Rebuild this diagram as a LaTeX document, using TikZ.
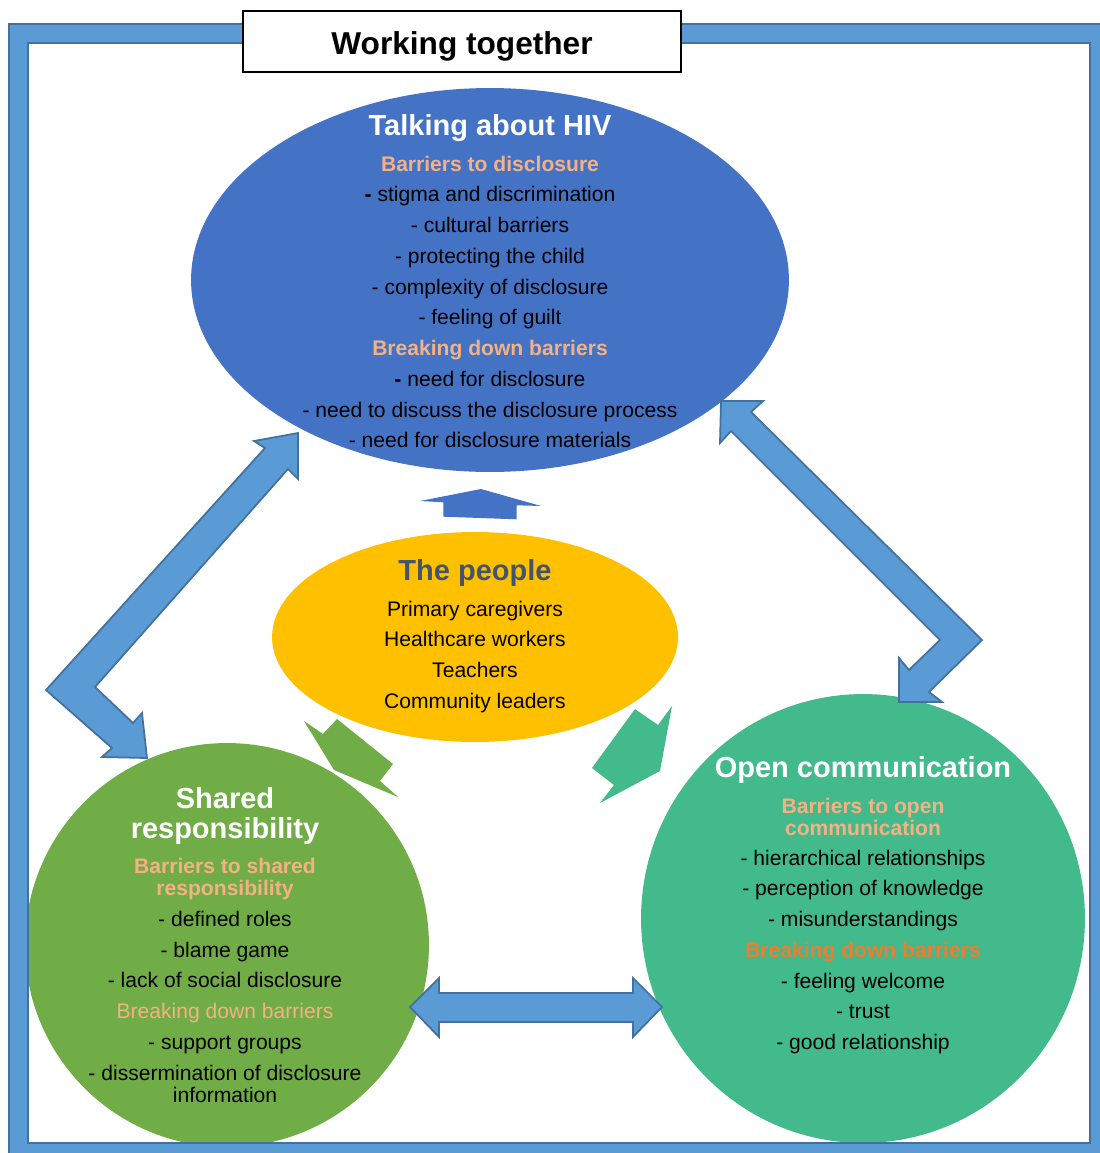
\documentclass[tikz,border=0pt]{standalone}
\usepackage{fontspec}
\setmainfont{Liberation Sans}
\usetikzlibrary{shapes.geometric}

\definecolor{framefill}{HTML}{5B9BD5}
\definecolor{frameline}{HTML}{41719C}
\definecolor{hivblue}{HTML}{4472C4}
\definecolor{peopleyellow}{HTML}{FFC000}
\definecolor{sharedgreen}{HTML}{70AD47}
\definecolor{openteal}{HTML}{43BA8C}
\definecolor{peoplegrey}{HTML}{44546A}
\definecolor{lightorange}{HTML}{F4B183}
\definecolor{darkorange}{HTML}{ED7D31}

\newcommand\circtitle[2][white]{{\color{#1}\bfseries\fontsize{16.5}{17.5}\selectfont #2}}
\newcommand\circsub[2][lightorange]{{\color{#1}\bfseries #2}}

\begin{document}
\begin{tikzpicture}[x=0.02cm,y=-0.02cm,
    blob/.style={ellipse,inner sep=0pt,draw=none},
    words/.style={align=center,inner sep=0pt,anchor=north,font=\fontsize{12}{17.5}\selectfont},
    bigarrow/.style={fill=framefill,draw=frameline,line width=1pt,line join=miter}]
  \fill[white,use as bounding box] (0,0) rectangle (1099,1153);

  \node[blob,fill=hivblue,minimum width=11.96cm,minimum height=7.68cm] (hiv) at (490,280) {};
  \node[blob,fill=peopleyellow,minimum width=8.12cm,minimum height=4.2cm] (people) at (475,637) {};
  \node[blob,fill=sharedgreen,minimum size=8.08cm] (shared) at (227,945) {};
  \node[blob,fill=openteal,minimum width=8.88cm,minimum height=8.98cm] (open) at (863,918.5) {};

  \fill[framefill,even odd rule,draw=frameline,line width=0.8pt]
    (9,24) rectangle (1110,1163) (28,43) rectangle (1090,1143);
  \node[draw,fill=white,line width=1.2pt,minimum width=8.76cm,minimum height=1.22cm,
    text height=14.6pt,text depth=0pt,font=\bfseries\fontsize{18}{20}\selectfont]
    (title) at (462,41.5) {Working together};

  \draw[bigarrow] (298,433) -- (254,441) -- (265,448) -- (46,690) -- (112,748) -- (102,757)
    -- (147,758) -- (142,713) -- (133,723) -- (95,687) -- (288,469) -- (298,479) -- cycle;
  \draw[bigarrow] (721,401) -- (763,401) -- (751,412) -- (982,640) -- (929,692) -- (942,702)
    -- (899,702) -- (899,658) -- (909,670) -- (940,640) -- (731,431) -- (720,443) -- cycle;
  \draw[bigarrow] (410,1007) -- (439,978) -- (439,993) -- (633,993) -- (633,978) -- (662,1007)
    -- (633,1037) -- (633,1022) -- (439,1022) -- (439,1037) -- cycle;

  \fill[hivblue] (443.3,516.7) -- (443.3,502.3) -- (420,501) -- (481,489) -- (541,506)
    -- (516.7,505.3) -- (516.7,519.3) -- cycle;
  \fill[sharedgreen] (304,721) -- (323,734) -- (337,719) -- (393,764) -- (380,781)
    -- (398,797) -- (334,770) -- cycle;
  \fill[openteal] (635,709) -- (658,725) -- (672,706) -- (660,771) -- (600,803)
    -- (614,785) -- (592,768) -- cycle;

  \node[words] (hivtext) at (490,114.6) {\circtitle{Talking about HIV}\\[2.5pt]
    \circsub{Barriers to disclosure}\\
    {\bfseries -} stigma and discrimination\\
    - cultural barriers\\
    - protecting the child\\
    - complexity of disclosure\\
    - feeling of guilt\\
    \circsub{Breaking down barriers}\\
    {\bfseries -} need for disclosure\\
    - need to discuss the disclosure process\\
    - need for disclosure materials};
  \node[words] (peopletext) at (475,559.6) {\circtitle[peoplegrey]{The people}\\[2.5pt]
    Primary caregivers\\
    Healthcare workers\\
    Teachers\\
    Community leaders};
  \node[words] (sharedtext) at (225,787.3) {\circtitle{Shared}\\[-0.5pt]
    \circtitle{responsibility}\\[2.5pt]
    \circsub{Barriers to shared}\\[-5pt]
    \circsub{responsibility}\\
    - defined roles\\
    - blame game\\
    - lack of social disclosure\\
    {\color{lightorange}Breaking down barriers}\\
    - support groups\\
    - dissermination of disclosure\\[-5pt]
    information};
  \node[words] (opentext) at (863,756) {\circtitle{Open communication}\\[3pt]
    \circsub{Barriers to open}\\[-5pt]
    \circsub{communication}\\[-0.5pt]
    - hierarchical relationships\\
    - perception of knowledge\\
    - misunderstandings\\
    \circsub[darkorange]{Breaking down barriers}\\
    - feeling welcome\\
    - trust\\
    - good relationship};
\end{tikzpicture}
\end{document}
